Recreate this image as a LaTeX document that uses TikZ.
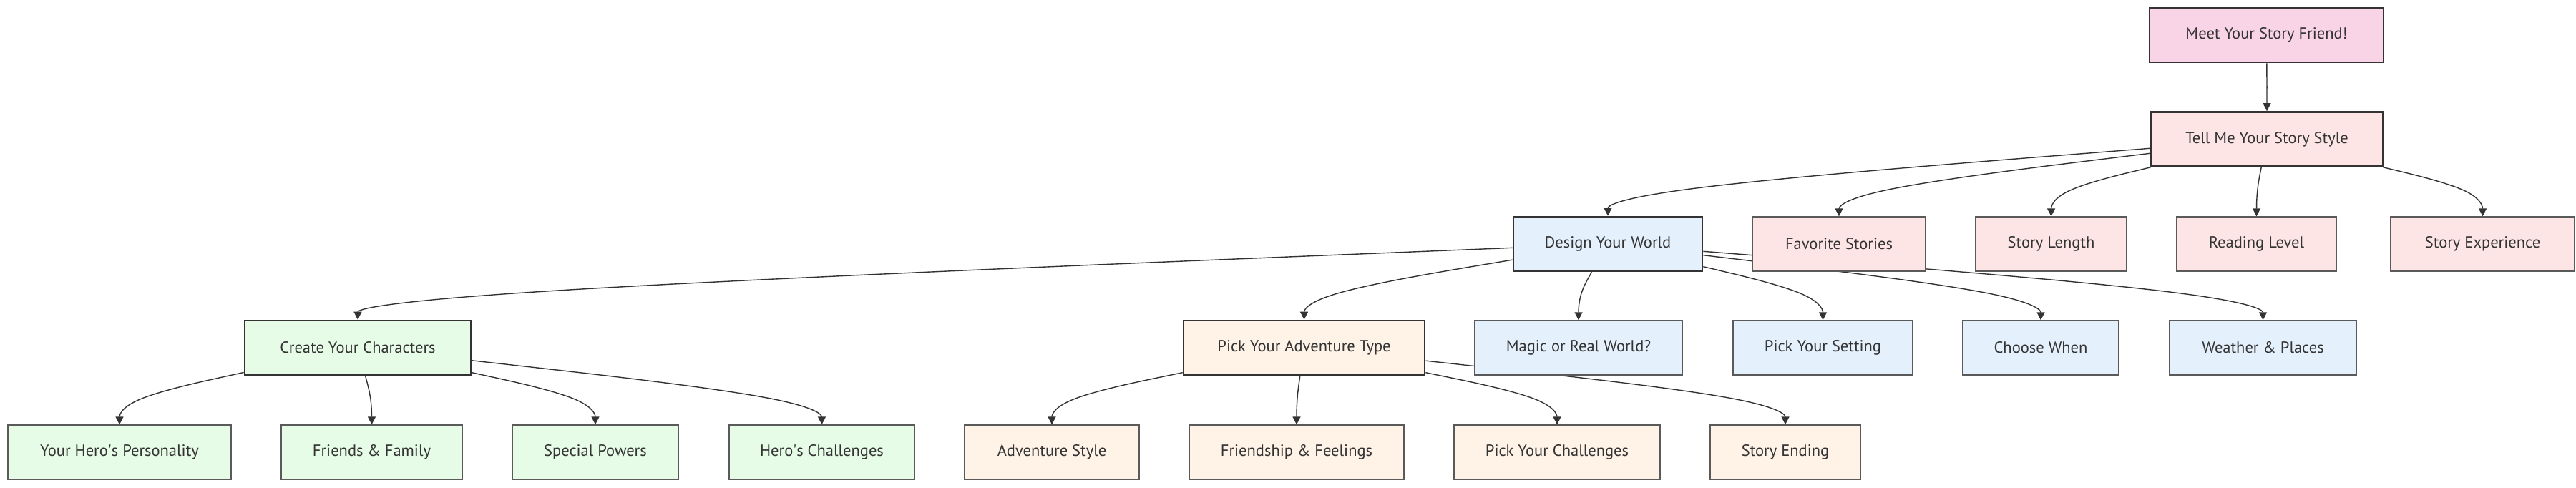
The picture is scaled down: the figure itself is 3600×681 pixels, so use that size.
\documentclass[tikz,border=0pt]{standalone}
\usepackage{fontspec}
\setmainfont{PT Sans}
\usepackage{tikz}
\usetikzlibrary{arrows.meta}
\usetikzlibrary{calc}
\usetikzlibrary{backgrounds}

\definecolor{ink}{HTML}{333333}
\definecolor{leafline}{HTML}{5A5A5A}
\definecolor{pinkA}{HTML}{F9D4E6}
\definecolor{redA}{HTML}{FDE5E6}
\definecolor{blueA}{HTML}{E4F1FD}
\definecolor{greenA}{HTML}{E6FCE6}
\definecolor{orangeA}{HTML}{FFF2E6}

% curved link from parent #1 to the top of child #2
\newcommand*\flowlink[2]{%
  \coordinate (mid) at ($(#2.north)+(0,-35)$);
  \path (#1) -- coordinate[pos=0] (start) (mid);
  \draw[link] (start) -- ($(start)!0.16667!(mid)$)
    .. controls ($(start)!0.33333!(mid)$) and ($(start)!0.66667!(mid)$)
    .. ($0.16667*(start)+0.66667*(mid)+0.16667*(#2.north)$)
    .. controls ($(mid)!0.33333!(#2.north)$) and ($(mid)!0.66667!(#2.north)$)
    .. (#2.north);}

\tikzset{
  box/.style={draw=leafline, line width=1.3pt, minimum height=76pt, inner sep=0pt,
    text=ink, font=\fontsize{22.5}{27}\selectfont},
  mainbox/.style={box, draw=ink, line width=2.6pt},
  link/.style={draw=ink, line width=1.4pt, -{Triangle[length=11pt,width=11pt]}}
}

\begin{document}
\begin{tikzpicture}[x=1pt, y=-1pt]
    \useasboundingbox (0,0) rectangle (3600,681);

    % Define nodes
    \node (meet) [mainbox, fill=pinkA, minimum width=327pt] at (3167.5,49) {Meet Your Story Friend!};
    \node (tell) [mainbox, fill=redA, minimum width=324pt] at (3168,194.5) {Tell Me Your Story Style};

    \node (design) [mainbox, fill=blueA, minimum width=264pt] at (2247,341) {Design Your World};
    \node (favorite) [box, fill=redA, minimum width=242pt] at (2570,341) {Favorite Stories};
    \node (length) [box, fill=redA, minimum width=211pt] at (2866.5,341) {Story Length};
    \node (reading) [box, fill=redA, minimum width=223pt] at (3153.5,341) {Reading Level};
    \node (experience) [box, fill=redA, minimum width=257pt] at (3469.5,341) {Story Experience};

    \node (create) [mainbox, fill=greenA, minimum width=316pt] at (500,486) {Create Your Characters};
    \node (adventure) [mainbox, fill=orangeA, minimum width=337pt] at (1822.5,486) {Pick Your Adventure Type};
    \node (magic) [box, fill=blueA, minimum width=290pt] at (2206,486) {Magic or Real World?};
    \node (setting) [box, fill=blueA, minimum width=251pt] at (2547.5,486) {Pick Your Setting};
    \node (when) [box, fill=blueA, minimum width=218pt] at (2852,486) {Choose When};
    \node (weather) [box, fill=blueA, minimum width=261pt] at (3162.5,486) {Weather \& Places};

    \node (personality) [box, fill=greenA, minimum width=312pt] at (167,632) {Your Hero\textquotesingle s Personality};
    \node (friends) [box, fill=greenA, minimum width=253pt] at (519.5,632) {Friends \& Family};
    \node (powers) [box, fill=greenA, minimum width=232pt] at (832,632) {Special Powers};
    \node (herochal) [box, fill=greenA, minimum width=259pt] at (1148.5,632) {Hero\textquotesingle s Challenges};
    \node (advstyle) [box, fill=orangeA, minimum width=244pt] at (1470,632) {Adventure Style};
    \node (feelings) [box, fill=orangeA, minimum width=300pt] at (1812,632) {Friendship \& Feelings};
    \node (pickchal) [box, fill=orangeA, minimum width=288pt] at (2176,632) {Pick Your Challenges};
    \node (ending) [box, fill=orangeA, minimum width=210pt] at (2495,632) {Story Ending};

    % Draw arrows
    \begin{scope}[on background layer]
    \flowlink{meet}{tell}
    \flowlink{tell}{design}
    \flowlink{tell}{favorite}
    \flowlink{tell}{length}
    \flowlink{tell}{reading}
    \flowlink{tell}{experience}
    \flowlink{design}{create}
    \flowlink{design}{adventure}
    \flowlink{design}{magic}
    \flowlink{design}{setting}
    \flowlink{design}{when}
    \flowlink{design}{weather}
    \flowlink{create}{personality}
    \flowlink{create}{friends}
    \flowlink{create}{powers}
    \flowlink{create}{herochal}
    \flowlink{adventure}{advstyle}
    \flowlink{adventure}{feelings}
    \flowlink{adventure}{pickchal}
    \flowlink{adventure}{ending}
    \end{scope}

\end{tikzpicture}
\end{document}
